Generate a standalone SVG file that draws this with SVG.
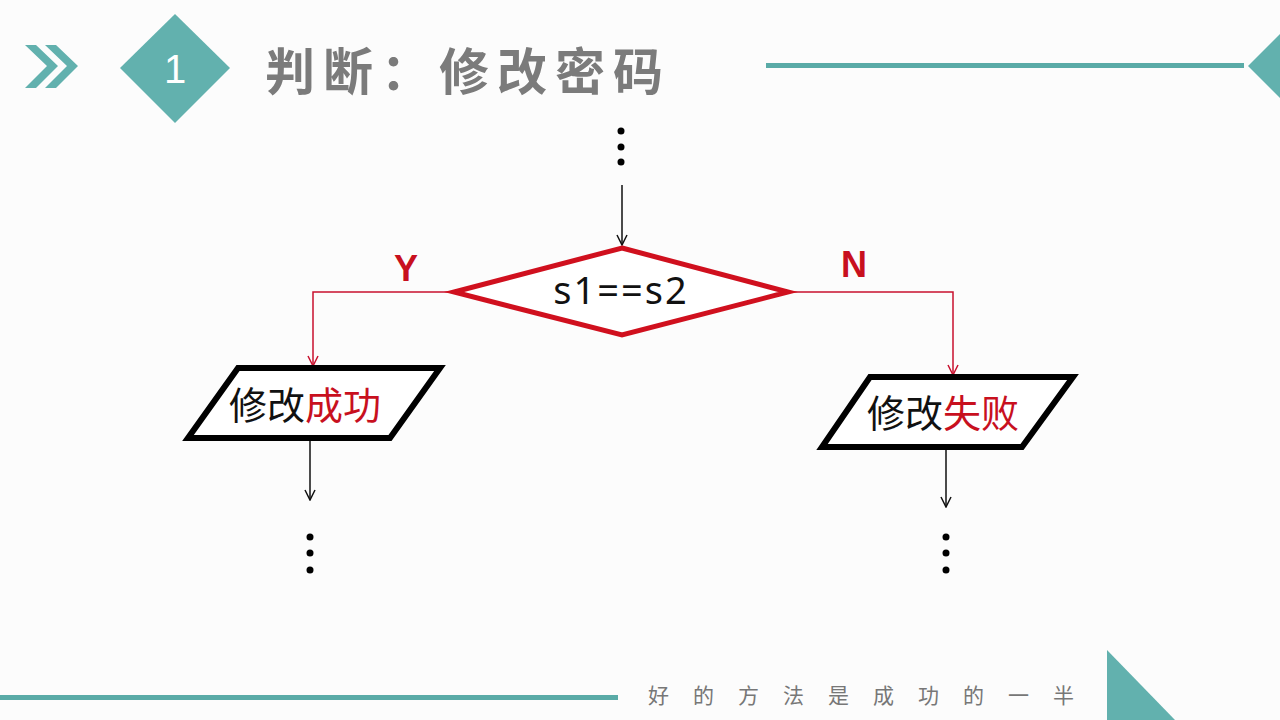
<svg xmlns="http://www.w3.org/2000/svg" width="1280" height="720" viewBox="0 0 1280 720">
<defs>
<style>
.teal{fill:#62b1ae}
.title{font-family:"Noto Sans CJK SC","Noto Sans CJK JP",sans-serif;font-weight:bold;font-size:50px;fill:#7b7b7b;letter-spacing:8px}
.node{font-family:"Noto Sans CJK SC","Noto Sans CJK JP",sans-serif;font-size:38px;fill:#111}
.red{fill:#c8101e}
.lbl{font-family:"Liberation Sans",Arial,sans-serif;font-weight:bold;font-size:36px;fill:#c8101e}
.cond{font-family:"Noto Sans","DejaVu Sans",sans-serif;font-size:38px;fill:#111;letter-spacing:2px}
.para{fill:#fff;stroke:#000;stroke-width:6;stroke-linejoin:miter}
.blk{stroke:#111;stroke-width:1.5;fill:none}
.rline{stroke:#c8102e;stroke-width:1.5;fill:none}
.foot{font-family:"Noto Sans CJK SC","Noto Sans CJK JP",sans-serif;font-size:21px;fill:#777;letter-spacing:24px}
</style>
<marker id="ab" viewBox="0 0 12 12" refX="11" refY="6" markerWidth="12" markerHeight="12" markerUnits="userSpaceOnUse" orient="auto">
<path d="M1,1 L11,6 L1,11" fill="none" stroke="#111" stroke-width="1.5"/>
</marker>
<marker id="ar" viewBox="0 0 12 12" refX="11" refY="6" markerWidth="12" markerHeight="12" markerUnits="userSpaceOnUse" orient="auto">
<path d="M1,1 L11,6 L1,11" fill="none" stroke="#c8102e" stroke-width="1.5"/>
</marker>
</defs>
<rect width="1280" height="720" fill="#fcfcfc"/>
<g id="header">
<polygon class="teal" points="25,45 36,45 58,66 36,88 25,88 47,66"/>
<polygon class="teal" points="45,45 56,45 78,66 56,88 45,88 67,66"/>
<polygon class="teal" points="175,14 230,68 175,123 120,68"/>
<text x="175" y="83" text-anchor="middle" font-family="Liberation Sans,Arial,sans-serif" font-size="40" fill="#fff">1</text>
<text class="title" x="265" y="90">判断：修改密码</text>
<rect x="766" y="63" width="478" height="5" fill="#5aaba7"/>
<polygon class="teal" points="1290,24 1332,66 1290,108 1248,66"/>
</g>
<g id="connectors">
<circle cx="621" cy="131" r="3.5" fill="#000"/>
<circle cx="621" cy="147" r="3.5" fill="#000"/>
<circle cx="621" cy="162" r="3.5" fill="#000"/>
<line class="blk" x1="622" y1="185" x2="622" y2="245" marker-end="url(#ab)"/>
<polyline class="rline" points="452,292 313,292 313,366" marker-end="url(#ar)"/>
<polyline class="rline" points="790,292 953,292 953,375" marker-end="url(#ar)"/>
<line class="blk" x1="310" y1="440" x2="310" y2="500" marker-end="url(#ab)"/>
<line class="blk" x1="946" y1="449" x2="946" y2="507" marker-end="url(#ab)"/>
<circle cx="310" cy="537" r="3.5" fill="#000"/>
<circle cx="310" cy="553" r="3.5" fill="#000"/>
<circle cx="310" cy="570" r="3.5" fill="#000"/>
<circle cx="946" cy="537" r="3.5" fill="#000"/>
<circle cx="946" cy="553" r="3.5" fill="#000"/>
<circle cx="946" cy="570" r="3.5" fill="#000"/>
<text class="lbl" x="406" y="281" text-anchor="middle">Y</text>
<text class="lbl" x="854" y="277" text-anchor="middle">N</text>
</g>
<g id="decision">
<polygon points="622,248 788,292 622,335 454,292" fill="#fff" stroke="#d0101e" stroke-width="5"/>
<text class="cond" x="621" y="304" text-anchor="middle">s1==s2</text>
</g>
<g id="success">
<polygon class="para" points="238,368 440,368 390,438 188,438"/>
<text class="node" x="229" y="419">修改<tspan class="red">成功</tspan></text>
</g>
<g id="fail">
<polygon class="para" points="870,377 1073,377 1022,447 822,447"/>
<text class="node" x="867" y="427">修改<tspan class="red">失败</tspan></text>
</g>
<g id="footer">
<rect x="0" y="695" width="618" height="5" fill="#5aaba7"/>
<text class="foot" x="648" y="703">好的方法是成功的一半</text>
<polygon class="teal" points="1107,650 1175,720 1107,720"/>
</g>
</svg>
